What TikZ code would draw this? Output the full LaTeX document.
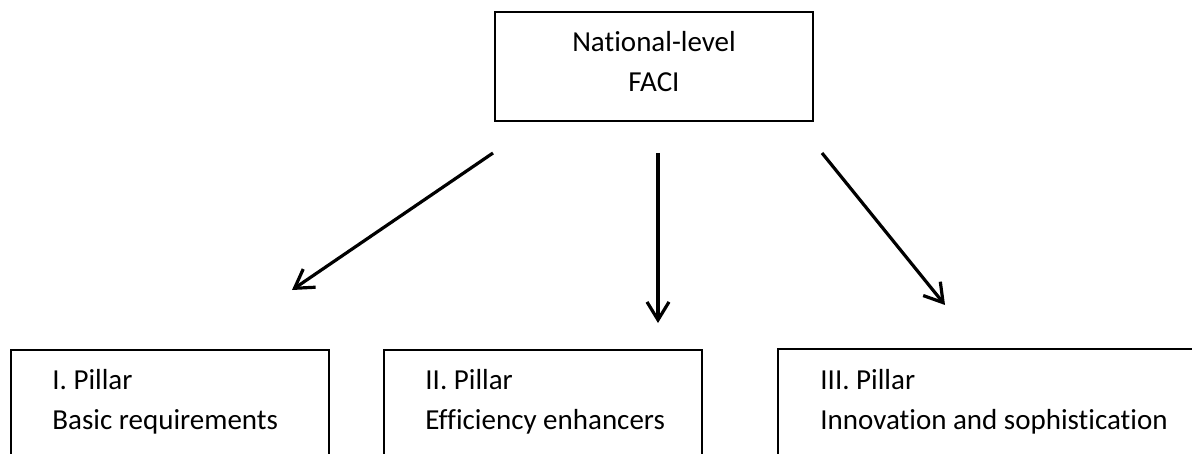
\documentclass[tikz,border=0pt]{standalone}
\usepackage{fontspec}
\setmainfont{Carlito}[Ligatures=NoCommon]
\usetikzlibrary{arrows.meta}
\begin{document}
\begin{tikzpicture}[x=0.5pt,y=-0.5pt,
  box/.style={draw=black, line width=1pt, rectangle, inner sep=0pt},
  label/.style={inner sep=0pt, font=\fontsize{14.5pt}{20pt}\selectfont},
  conn/.style={line width=1.6pt, -{Straight Barb[length=9pt,width=11pt,line width=1.6pt]}}]
\useasboundingbox (0,0) rectangle (1192,454);
\clip (0,0) rectangle (1192,454);
% top box
\node[box, minimum width=159pt, minimum height=54.5pt] (top) at (654,66.5) {};
\node[label, anchor=base] (t1) at (654,52) {National-level};
\node[label, anchor=base] (t2) at (654,92) {FACI};
% bottom boxes
\node[box, minimum width=159pt, minimum height=85pt] (p1) at (170,435) {};
\node[box, minimum width=159pt, minimum height=85pt] (p2) at (543,435) {};
\node[box, minimum width=221pt, minimum height=85.5pt] (p3) at (999,434.5) {};
\node[label, anchor=base west] (p1a) at (52,389) {I. Pillar};
\node[label, anchor=base west] (p1b) at (52,429) {Basic requirements};
\node[label, anchor=base west] (p2a) at (425,389) {II. Pillar};
\node[label, anchor=base west] (p2b) at (425,429) {Efficiency enhancers};
\node[label, anchor=base west] (p3a) at (820,389) {III. Pillar};
\node[label, anchor=base west] (p3b) at (820,429) {Innovation and sophistication};
% arrows
\coordinate (s1) at (493,153);
\coordinate (e1) at (292,290);
\coordinate (s2) at (658,153);
\coordinate (e2) at (658,323);
\coordinate (s3) at (822,153);
\coordinate (e3) at (945,305);
\draw[conn] (s1) -- (e1);
\draw[conn] (s2) -- (e2);
\draw[conn] (s3) -- (e3);
\end{tikzpicture}
\end{document}
